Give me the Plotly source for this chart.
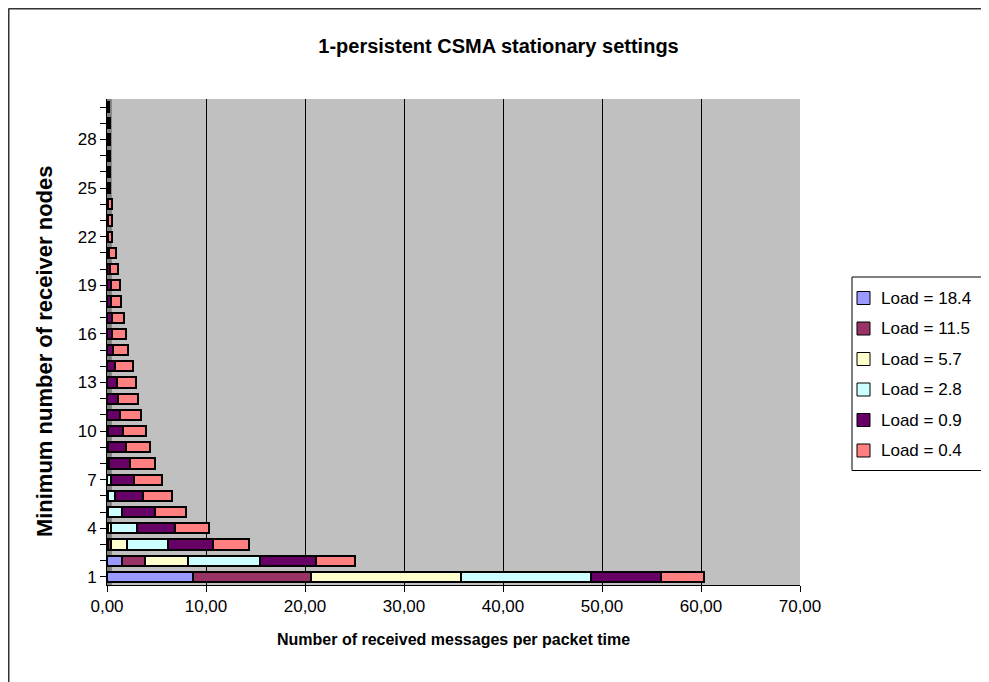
import plotly.graph_objects as go

# minimum number of receiver nodes (categories)
nodes = list(range(1, 31))

series_names = ["Load = 18.4", "Load = 11.5", "Load = 5.7",
                "Load = 2.8", "Load = 0.9", "Load = 0.4"]
series_colors = ["#9999FF", "#993366", "#FFFFCC", "#CCFFFF", "#660066", "#FF8080"]

load_18_4 = [8.7, 1.55, 0.05] + [0] * 27
load_11_5 = [11.9, 2.25, 0.4, 0.05] + [0] * 26
load_5_7 = [15.2, 4.4, 1.6, 0.4, 0.1, 0.05] + [0] * 24
load_2_8 = [13.1, 7.3, 4.15, 2.55, 1.4, 0.8, 0.4, 0.25, 0.1, 0.05] + [0] * 20
load_0_9 = [7.1, 5.6, 4.5, 3.9, 3.3, 2.8, 2.3, 2.05, 1.85, 1.55,
            1.3, 1.15, 1.05, 0.8, 0.65, 0.55, 0.5, 0.45, 0.4, 0.3,
            0.25, 0.15, 0.15, 0.1, 0.1, 0.1, 0.1, 0.1, 0.1, 0.1]
load_0_4 = [4.3, 3.9, 3.6, 3.4, 3.2, 2.9, 2.9, 2.5, 2.35, 2.35,
            2.1, 1.95, 1.9, 1.8, 1.45, 1.35, 1.2, 1.0, 0.9, 0.8,
            0.65, 0.4, 0.35, 0.4, 0.25, 0.25, 0.2, 0.2, 0.2, 0.15]

x_ticks = [0, 10, 20, 30, 40, 50, 60, 70]
x_ticktext = ["0,00", "10,00", "20,00", "30,00", "40,00", "50,00", "60,00", "70,00"]
y_ticks = [1, 4, 7, 10, 13, 16, 19, 22, 25, 28]

FONT = "Liberation Sans, Arial, sans-serif"
W, H = 981, 674
L, R, T, B = 99, 189, 91, 97
PW, PH = W - L - R, H - T - B


def px(fx):
    # figure pixel x -> paper x
    return (fx - L) / PW


def py(fy):
    # figure pixel y -> paper y
    return (H - B - fy) / PH


fig = go.Figure()
for name, color, vals in zip(series_names, series_colors,
                             [load_18_4, load_11_5, load_5_7, load_2_8, load_0_9, load_0_4]):
    fig.add_trace(go.Bar(
        y=nodes, x=vals, name=name, orientation="h", showlegend=False,
        marker=dict(color=color, line=dict(color="black", width=2)),
    ))

# dark left wall of the 3D plot area
fig.add_shape(type="rect", xref="paper", yref="paper", x0=0, x1=0.007, y0=0, y1=1,
              fillcolor="#808080", line_width=0, layer="below")
# outer chart border (only top and left edges are in view)
fig.add_shape(type="line", xref="paper", yref="paper", x0=px(0.5), x1=px(0.5), y0=py(H + 20), y1=py(0.5),
              line=dict(color="#333333", width=2))
fig.add_shape(type="line", xref="paper", yref="paper", x0=px(0.5), x1=px(W + 20), y0=py(0.5), y1=py(0.5),
              line=dict(color="#333333", width=2))

# legend box drawn by hand (Excel-style spacing)
leg_left, leg_top, row0, row_step = 844, 269, 290, 30.5
fig.add_shape(type="rect", xref="paper", yref="paper",
              x0=px(leg_left), x1=px(W + 20), y0=py(leg_top), y1=py(row0 + 5 * row_step + 20),
              fillcolor="white", line=dict(color="black", width=1))
for i, (name, color) in enumerate(zip(series_names, series_colors)):
    cy = row0 + i * row_step
    fig.add_shape(type="rect", xref="paper", yref="paper",
                  x0=px(leg_left + 5), x1=px(leg_left + 18), y0=py(cy + 6.5), y1=py(cy - 6.5),
                  fillcolor=color, line=dict(color="black", width=1))
    fig.add_annotation(text=name, xref="paper", yref="paper", x=px(leg_left + 27), y=py(cy),
                       xanchor="left", yanchor="middle", showarrow=False,
                       font=dict(size=17, family=FONT, color="black"))

fig.add_annotation(text="<b>Number of received messages per packet time</b>",
                   xref="paper", yref="paper", x=0.5, y=-0.134, showarrow=False,
                   font=dict(size=16, family=FONT, color="black"))
fig.add_annotation(text="<b>Minimum number of receiver nodes</b>", textangle=-90,
                   xref="paper", yref="paper", x=-0.112, y=0.481, showarrow=False,
                   font=dict(size=22, family=FONT, color="black"))

fig.update_layout(
    width=W, height=H,
    margin=dict(l=L, r=R, t=T, b=B),
    paper_bgcolor="white", plot_bgcolor="#C0C0C0",
    barmode="stack", bargap=0.36,
    font=dict(family=FONT, size=17, color="black"),
    title=dict(text="<b>1-persistent CSMA stationary settings</b>", x=0.5, y=1 - 38 / H,
               xanchor="center", yanchor="middle", font=dict(size=20, family=FONT)),
    xaxis=dict(range=[0, 70], tickvals=x_ticks, ticktext=x_ticktext,
               showgrid=True, gridcolor="black", gridwidth=1,
               ticks="outside", ticklen=6, tickcolor="black",
               showline=True, linecolor="black", zeroline=False),
    yaxis=dict(range=[0.5, 30.5], tickvals=y_ticks, showgrid=False,
               ticks="outside", ticklen=6, tickcolor="black",
               minor=dict(tickvals=nodes, ticks="outside", ticklen=6, tickcolor="black"),
               showline=True, linecolor="black", zeroline=False),
    showlegend=False,
)

fig.write_html("out.html")
